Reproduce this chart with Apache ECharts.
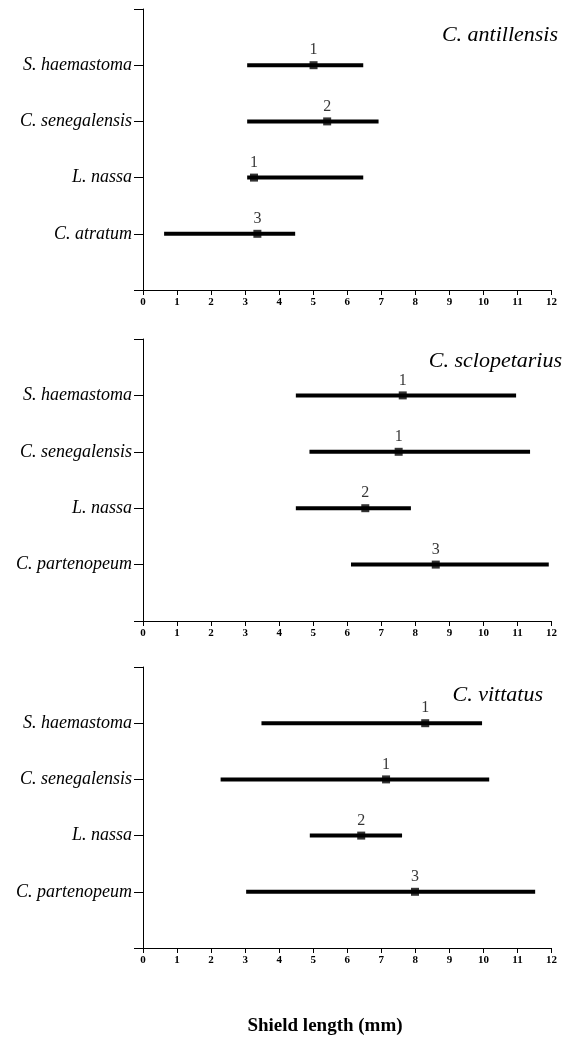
<!DOCTYPE html>
<html>
<head>
<meta charset="utf-8">
<script src="https://cdn.jsdelivr.net/npm/echarts@6/dist/echarts.min.js"></script>
<style>
  html, body { margin: 0; padding: 0; background: #fff; }
  #chart { width: 565px; height: 1050px; }
</style>
</head>
<body>
<div id="chart"></div>
<script>
// x axis ticks (shield length, mm)
const xTicks = [0, 1, 2, 3, 4, 5, 6, 7, 8, 9, 10, 11, 12];

// panel titles (hermit crab species)
const panelTitles = ['C. antillensis', 'C. sclopetarius', 'C. vittatus'];

// shell species per panel, top to bottom
const rows1 = ['S. haemastoma', 'C. senegalensis', 'L. nassa', 'C. atratum'];
const rows2 = ['S. haemastoma', 'C. senegalensis', 'L. nassa', 'C. partenopeum'];
const rows3 = ['S. haemastoma', 'C. senegalensis', 'L. nassa', 'C. partenopeum'];

// C. antillensis
const antLow = [3.06, 3.06, 3.06, 0.62];
const antMean = [5.01, 5.41, 3.26, 3.36];
const antHigh = [6.47, 6.92, 6.47, 4.47];
const antGroup = ['1', '2', '1', '3'];

// C. sclopetarius
const sclLow = [4.49, 4.89, 4.49, 6.11];
const sclMean = [7.63, 7.51, 6.53, 8.60];
const sclHigh = [10.96, 11.37, 7.87, 11.92];
const sclGroup = ['1', '1', '2', '3'];

// C. vittatus
const vitLow = [3.48, 2.28, 4.90, 3.03];
const vitMean = [8.29, 7.14, 6.41, 7.99];
const vitHigh = [9.96, 10.17, 7.61, 11.52];
const vitGroup = ['1', '1', '2', '3'];

const panels = [
  { rows: rows1, low: antLow, mean: antMean, high: antHigh, group: antGroup, top: 9, height: 281 },
  { rows: rows2, low: sclLow, mean: sclMean, high: sclHigh, group: sclGroup, top: 339, height: 282 },
  { rows: rows3, low: vitLow, mean: vitMean, high: vitHigh, group: vitGroup, top: 667, height: 281 }
];

const serif = '"Liberation Serif", "DejaVu Serif", serif';

let chart = echarts.init(document.getElementById('chart'));

let grids = [], xAxes = [], yAxes = [], series = [];
panels.forEach(function (p, i) {
  grids.push({ left: 143, width: 408.5, top: p.top, height: p.height });
  xAxes.push({
    gridIndex: i,
    type: 'value',
    position: 'bottom',
    min: xTicks[0],
    max: xTicks[xTicks.length - 1],
    interval: 1,
    splitLine: { show: false },
    axisLine: { onZero: false, lineStyle: { color: '#000', width: 1 } },
    axisTick: { length: 5, lineStyle: { color: '#000' } },
    axisLabel: {
      color: '#000', fontFamily: serif, fontSize: 11, fontWeight: 'bold', margin: 7,
      showMinLabel: true, showMaxLabel: true
    }
  });
  yAxes.push({
    gridIndex: i,
    type: 'value',
    inverse: true,
    min: 0,
    max: 5,
    interval: 1,
    splitLine: { show: false },
    axisLine: { show: true, onZero: false, lineStyle: { color: '#000', width: 1 } },
    axisTick: { show: true, length: 9, lineStyle: { color: '#000' } },
    axisLabel: {
      color: '#000', fontFamily: serif, fontStyle: 'italic', fontSize: 18, margin: 11,
      formatter: function (v) { return (v >= 1 && v <= 4) ? p.rows[v - 1] : ''; }
    }
  });

  let rangeData = p.rows.map(function (r, k) { return [p.low[k], p.high[k], k + 1]; });
  let meanData = p.rows.map(function (r, k) { return [p.mean[k], k + 1, p.group[k]]; });

  series.push({
    type: 'custom',
    xAxisIndex: i,
    yAxisIndex: i,
    data: rangeData,
    renderItem: function (params, api) {
      let a = api.coord([api.value(0), api.value(2)]);
      let b = api.coord([api.value(1), api.value(2)]);
      return {
        type: 'line',
        shape: { x1: a[0], y1: a[1], x2: b[0], y2: b[1] },
        style: { stroke: '#000', lineWidth: 4 }
      };
    }
  });
  series.push({
    type: 'scatter',
    xAxisIndex: i,
    yAxisIndex: i,
    symbol: 'rect',
    symbolSize: 8,
    itemStyle: { color: '#000' },
    data: meanData,
    label: {
      show: true,
      position: 'top',
      distance: 3,
      color: '#000',
      fontFamily: serif,
      fontSize: 16,
      formatter: function (d) { return d.data[2]; }
    }
  });
});

const titleStyle = { fontFamily: serif, fontStyle: 'italic', fontWeight: 'normal', fontSize: 22, color: '#000' };

chart.setOption({
  animation: false,
  backgroundColor: '#fff',
  title: [
    { text: panelTitles[0], right: 2, top: 19, textStyle: titleStyle },
    { text: panelTitles[1], right: -2, top: 345, textStyle: titleStyle },
    { text: panelTitles[2], right: 17, top: 679, textStyle: titleStyle },
    { text: 'Shield length (mm)', left: 320, textAlign: 'center', top: 1012, textStyle: { fontFamily: serif, fontWeight: 'bold', fontSize: 19, color: '#000' } }
  ],
  grid: grids,
  xAxis: xAxes,
  yAxis: yAxes,
  series: series
});
</script>
</body>
</html>
